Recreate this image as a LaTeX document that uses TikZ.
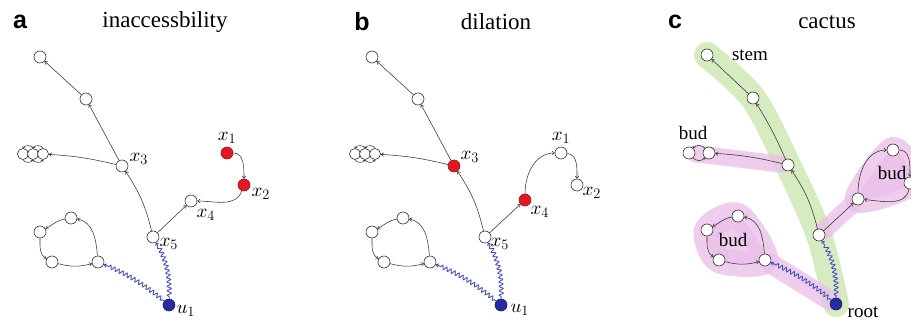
\documentclass[tikz,border=0pt]{standalone}
\usepackage{fontspec}
\setmainfont{Liberation Serif}
\newfontfamily\panelfont{Liberation Sans}
\DeclareFontShape{OML}{cmm}{m}{it}{<->cmmi10}{}
\usetikzlibrary{positioning, arrows.meta, decorations.pathmorphing, backgrounds}

\definecolor{hotred}{RGB}{228,24,36}
\definecolor{rootblue}{RGB}{36,44,160}
\definecolor{wavyblue}{RGB}{70,80,190}
\definecolor{stemgreen}{RGB}{214,236,192}
\definecolor{budpink}{RGB}{234,192,232}

\tikzset{
	vtx/.style={circle, draw=black!80, fill=white, line width=0.6pt, minimum size=12pt, inner sep=0pt},
	smallvtx/.style={vtx, minimum size=11pt},
	hotvtx/.style={vtx, draw=hotred!70!black, fill=hotred},
	rootvtx/.style={vtx, draw=rootblue!70!black, fill=rootblue},
	lbl/.style={inner sep=0pt, font=\fontsize{19}{22}\selectfont},
	arc/.style={draw=black!80, line width=0.55pt, -{To[length=3pt,width=4pt]}},
	loopy/.style={arc, -{To[length=2pt,width=3pt]}},
	wave/.style={draw=wavyblue, line width=0.9pt, -{To[length=3pt,width=4pt]}, decorate,
		decoration={snake, amplitude=2pt, segment length=4.5pt, pre length=2pt, post length=4pt}},
	title/.style={inner sep=0pt, font=\fontsize{23}{26}\selectfont},
	letter/.style={inner sep=0pt, font=\panelfont\bfseries\fontsize{25}{28}\selectfont},
	stemband/.style={draw=stemgreen, line width=26pt, line cap=round, line join=round},
	budband/.style={draw=budpink, fill=budpink, opacity=0.8, line cap=round, line join=round}
}

\begin{document}
\begin{tikzpicture}[x=1pt, y=1pt]
	\useasboundingbox (0,0) rectangle (911,322);
	% Panel titles:
	\node[letter] (alet) at (20,300) {a};
	\node[title] (atitle) at (165,300) {inaccessbility};
	\node[letter] (blet) at (362,300) {b};
	\node[title] (btitle) at (496,300) {dilation};
	\node[letter] (clet) at (675,300) {c};
	\node[title] (ctitle) at (827,300) {cactus};

	% a: inaccessibility
	\begin{scope}
		\node[vtx] (at1) at (40,265) {};
		\node[vtx] (at2) at (86,223) {};
		\node[vtx] (ax3) at (122,156) {};
		\node[smallvtx] (ata) at (23,168) {};
		\node[smallvtx] (atb) at (33,168) {};
		\node[smallvtx] (atc) at (43,168) {};
		\node[hotvtx] (ax1) at (227,169) {};
		\node[hotvtx] (ax2) at (244,137) {};
		\node[vtx] (ax4) at (191,121) {};
		\node[vtx] (ax5) at (153,85) {};
		\node[vtx] (ac1) at (98,60) {};
		\node[vtx] (ac2) at (71,104) {};
		\node[vtx] (ac3) at (40,90) {};
		\node[vtx] (ac4) at (52,60) {};
		\node[rootvtx] (au1) at (169,17) {};
		\node[lbl, above=3pt of ax1] (ax1l) {$x_1$};
		\node[lbl, right=1pt of ax2, yshift=-9pt] (ax2l) {$x_2$};
		\node[lbl, right=1pt of ax3, yshift=7pt] (ax3l) {$x_3$};
		\node[lbl, right=-1pt of ax4, yshift=-14pt] (ax4l) {$x_4$};
		\node[lbl, right=0pt of ax5, yshift=-7pt] (ax5l) {$x_5$};
		\node[lbl, right=1pt of au1, yshift=-6pt] (au1l) {$u_1$};
		\draw[arc] (ax5) to[bend right=10] (ax3);
		\draw[arc] (ax3) -- (at2);
		\draw[arc] (at2) -- (at1);
		\draw[arc] (ax3) to[bend right=5] (atc);
		\draw[loopy] (atc.north) to[bend right=60] (atb.north);
		\draw[loopy] (atb.north) to[bend right=60] (ata.north);
		\draw[loopy] (ata.south) to[bend right=60] (atb.south);
		\draw[loopy] (atb.south) to[bend right=60] (atc.south);
		\draw[arc] (ax5) -- (ax4);
		\draw[arc] (ax1) to[out=0, in=90] (ax2);
		\draw[arc] (ax2) to[out=-110, in=0] (ax4);
		\draw[arc] (ac1) to[out=95, in=-10] (ac2);
		\draw[arc] (ac2) to[out=190, in=30] (ac3);
		\draw[arc] (ac3) to[out=-90, in=150] (ac4);
		\draw[arc] (ac4) to[bend right=15] (ac1);
		\draw[wave] (au1) to[bend right=15] (ax5);
		\draw[wave] (au1) to[bend right=8] (ac1);
	\end{scope}

	% b: dilation
	\begin{scope}[xshift=332pt]
		\node[vtx] (bt1) at (40,265) {};
		\node[vtx] (bt2) at (86,223) {};
		\node[hotvtx] (bx3) at (122,156) {};
		\node[smallvtx] (bta) at (23,168) {};
		\node[smallvtx] (btb) at (33,168) {};
		\node[smallvtx] (btc) at (43,168) {};
		\node[vtx] (bx1) at (229,169) {};
		\node[vtx] (bx2) at (245,137) {};
		\node[hotvtx] (bx4) at (193,122) {};
		\node[vtx] (bx5) at (153,85) {};
		\node[vtx] (bc1) at (98,60) {};
		\node[vtx] (bc2) at (71,104) {};
		\node[vtx] (bc3) at (40,90) {};
		\node[vtx] (bc4) at (52,60) {};
		\node[rootvtx] (bu1) at (169,17) {};
		\node[lbl, above=3pt of bx1] (bx1l) {$x_1$};
		\node[lbl, right=-1pt of bx2, yshift=-8pt] (bx2l) {$x_2$};
		\node[lbl, right=0pt of bx3, yshift=9pt] (bx3l) {$x_3$};
		\node[lbl, right=-1pt of bx4, yshift=-12pt] (bx4l) {$x_4$};
		\node[lbl, right=-1pt of bx5, yshift=-7pt] (bx5l) {$x_5$};
		\node[lbl, right=3pt of bu1, yshift=-5pt] (bu1l) {$u_1$};
		\draw[arc] (bx5) to[bend right=10] (bx3);
		\draw[arc] (bx3) -- (bt2);
		\draw[arc] (bt2) -- (bt1);
		\draw[arc] (bx3) to[bend right=5] (btc);
		\draw[loopy] (btc.north) to[bend right=60] (btb.north);
		\draw[loopy] (btb.north) to[bend right=60] (bta.north);
		\draw[loopy] (bta.south) to[bend right=60] (btb.south);
		\draw[loopy] (btb.south) to[bend right=60] (btc.south);
		\draw[arc] (bx5) -- (bx4);
		\draw[arc] (bx4) to[out=90, in=180] (bx1);
		\draw[arc] (bx1) to[out=-5, in=90] (bx2);
		\draw[arc] (bc1) to[out=95, in=-10] (bc2);
		\draw[arc] (bc2) to[out=190, in=30] (bc3);
		\draw[arc] (bc3) to[out=-90, in=150] (bc4);
		\draw[arc] (bc4) to[bend right=15] (bc1);
		\draw[wave] (bu1) to[bend right=15] (bx5);
		\draw[wave] (bu1) to[bend right=8] (bc1);
	\end{scope}

	% c: cactus
	\begin{scope}[xshift=667pt]
		\node[vtx] (ct1) at (40,267) {};
		\node[vtx] (ct2) at (86,224) {};
		\node[vtx] (cj3) at (121,157) {};
		\node[vtx] (cb1) at (22,169) {};
		\node[vtx] (cb2) at (42,169) {};
		\node[vtx] (cx1) at (226,172) {};
		\node[vtx] (cx2) at (243,139) {};
		\node[vtx] (cx4) at (191,123) {};
		\node[vtx] (cx5) at (152,87) {};
		\node[vtx] (cc1) at (98,62) {};
		\node[vtx] (cc2) at (71,106) {};
		\node[vtx] (cc3) at (40,92) {};
		\node[vtx] (cc4) at (52,62) {};
		\node[rootvtx] (cu1) at (169,18) {};
		\node[lbl] (cstem) at (83,267) {stem};
		\node[lbl] (cbudl) at (26,189) {bud};
		\node[lbl] (cbudr) at (225,149) {bud};
		\node[lbl] (cbudd) at (66,82) {bud};
		\node[lbl] (croot) at (196,10) {root};
		\draw[arc] (cx5) to[bend right=10] (cj3);
		\draw[arc] (cj3) to[bend right=4] (ct2);
		\draw[arc] (ct2) -- (ct1);
		\draw[arc] (cj3) to[bend right=5] (cb2);
		\draw[loopy] (cb2) to[bend right=50] (cb1);
		\draw[loopy] (cb1) to[bend right=50] (cb2);
		\draw[arc] (cx5) -- (cx4);
		\draw[arc] (cx4) to[out=90, in=180] (cx1);
		\draw[arc] (cx1) to[out=0, in=90] (cx2);
		\draw[arc] (cx2) to[out=-100, in=-5] (cx4);
		\draw[arc] (cc1) to[out=95, in=-10] (cc2);
		\draw[arc] (cc2) to[out=190, in=30] (cc3);
		\draw[arc] (cc3) to[out=-90, in=150] (cc4);
		\draw[arc] (cc4) to[bend right=15] (cc1);
		\draw[wave] (cu1) to[bend right=15] (cx5);
		\draw[wave] (cu1) to[bend right=8] (cc1);
		% stem and buds behind
		\begin{scope}[on background layer]
			\draw[stemband] plot[smooth] coordinates {(cu1) (cx5) (cj3) (ct2) (ct1)};
			\draw[budband, line width=17pt] (cb1) -- (cj3);
			\draw[budband, line width=26pt] plot[smooth cycle] coordinates {(cc1) (cc2) (cc3) (cc4)};
			\draw[budband, line width=20pt] (cu1) -- (cc1);
			\draw[budband, line width=26pt] plot[smooth cycle] coordinates {(cx4) (cx1) (cx2)};
			\draw[budband, line width=18pt] (cx5) -- (cx4);
		\end{scope}
	\end{scope}
\end{tikzpicture}
\end{document}
